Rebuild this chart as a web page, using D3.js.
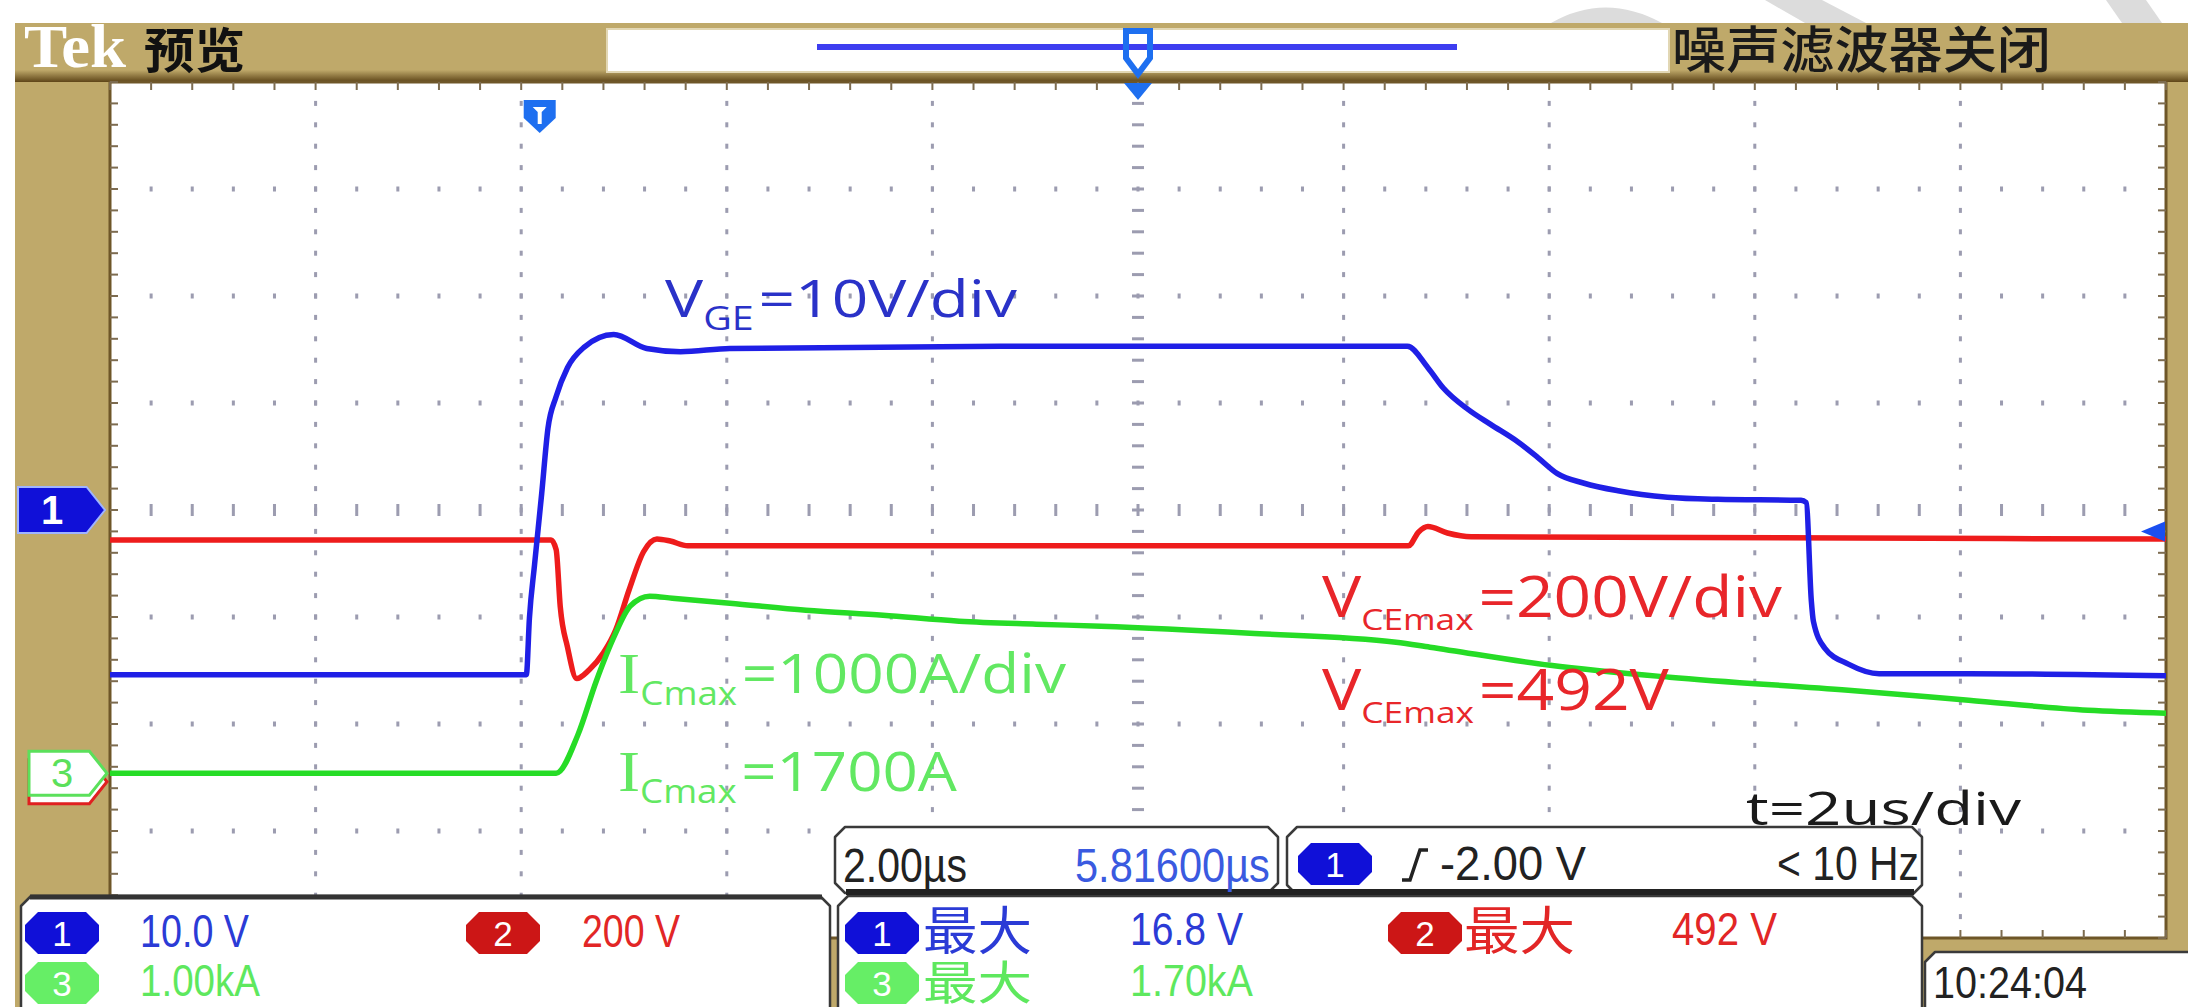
<!DOCTYPE html>
<meta charset="utf-8">
<style>
html, body { margin: 0; background: #fff; }
svg { display: block; }
.trace { fill: none; stroke-width: 5.5; stroke-linejoin: round; stroke-linecap: round; }
</style>
<body><svg width="2188" height="1007"></svg></body>
<script src="https://d3js.org/d3.v7.min.js"></script>
<script>

// time in µs from the left edge of the screen, 2 µs/div
// ch1 V_GE (V), 10 V/div
var vge = [[0,-15.4],[4.05,-15.4],[4.08,-10.1],[4.13,-5.1],[4.20,1.6],[4.26,7.6],[4.34,10.6],[4.45,13.3],
  [4.61,15.2],[4.90,16.4],[5.22,15.1],[5.55,14.8],[6.03,15.1],[8.66,15.3],[12.62,15.3],[12.82,13.3],
  [12.97,11.4],[13.21,9.4],[13.43,8.0],[13.69,6.4],[13.89,4.9],[14.08,3.4],[14.34,2.5],[14.67,1.8],
  [15.15,1.2],[15.64,1.0],[16.45,0.9],[16.50,0.7],[16.55,-8.5],[16.57,-10.4],[16.68,-12.9],[16.91,-14.4],
  [17.21,-15.3],[18.08,-15.3],[20,-15.5]];

// ch2 V_CE (V), 200 V/div
var vce = [[0,452],[4.29,452],[4.34,434],[4.38,327],[4.45,252],[4.54,193],[4.66,209],[4.80,241],
  [4.92,284],[5.05,359],[5.19,430],[5.32,454],[5.45,450],[5.62,441],[6.03,441],[12.63,441],
  [12.73,467],[12.82,477],[13.01,465],[13.24,458],[20,454]];

// ch3 I_C (A), 1000 A/div
var ic = [[0,0],[4.34,0],[4.55,355],[4.73,860],[4.91,1290],[5.06,1561],[5.25,1654],[5.47,1636],
  [6.03,1589],[6.77,1523],[7.52,1477],[8.26,1421],[9.01,1393],[9.64,1374],[11.09,1308],[12.51,1224],
  [12.84,1178],[14.01,1009],[15.17,897],[16.91,776],[18.08,682],[19.24,589],[20,561]];

// channel settings: units per div, ground position in div from centre
var chPerDiv = [10, 200, 1000];
var chPos = [0, -2.54, -2.46];
var trigLevel = -2.0;
var trigTime = 4.18;

// readouts
var topLeft = ["Tek", "预览"];
var topRight = "噪声滤波器关闭";
var chScaleText = ["10.0 V", "200 V", "1.00kA"];
var timeText = ["2.00µs", "5.81600µs"];
var trigText = ["-2.00 V", "< 10 Hz"];
var maxLabel = "最大";
var maxText = ["16.8 V", "492 V", "1.70kA"];
var clockText = "10:24:04";

var svg = d3.select("svg");

var gx0 = 110, gx1 = 2166, gy0 = 82, gy1 = 938;
var divX = d3.scaleLinear().domain([0, 10]).range([gx0, gx1]);
var divY = d3.scaleLinear().domain([0, 8]).range([gy0, gy1]);
var x = d3.scaleLinear().domain([0, 20]).range([gx0, gx1]);
var ys = chPerDiv.map(function(p, i) {
  return d3.scaleLinear().domain([(-4 - chPos[i]) * p, (4 - chPos[i]) * p]).range([gy1, gy0]);
});

var blue = "#1f1fe6", red = "#ee1c1c", green = "#26dc26";

var defs = svg.append("defs");
var gb = defs.append("linearGradient").attr("id", "barEdge").attr("x1", 0).attr("x2", 0).attr("y1", 0).attr("y2", 1);
gb.append("stop").attr("offset", 0).attr("stop-color", "#bfa96a");
gb.append("stop").attr("offset", 1).attr("stop-color", "#5e4518");
defs.append("clipPath").attr("id", "clip").append("rect")
  .attr("x", gx0).attr("y", gy0).attr("width", gx1 - gx0).attr("height", gy1 - gy0);

// watermark bits in the margin
svg.append("g").attr("fill", "#dcdcdc").selectAll("path")
  .data(["M1551,23 Q1605,-8 1662,23 Z", "M1765,0 L1822,0 L1866,23 L1805,23 Z", "M2106,0 L2146,0 L2162,23 L2122,23 Z"])
  .enter().append("path").attr("d", function(d) { return d; });

// bezel
svg.append("rect").attr("x", 15).attr("y", 23).attr("width", 2188 - 15).attr("height", 1007 - 23).attr("fill", "#bfa96a");
svg.append("rect").attr("x", 15).attr("y", 70).attr("width", 2188 - 15).attr("height", 12).attr("fill", "url(#barEdge)");
svg.append("rect").attr("x", 607).attr("y", 29).attr("width", 1062).attr("height", 43)
  .attr("fill", "#fff").attr("stroke", "#e2d7b4").attr("stroke-width", 2);
svg.append("line").attr("x1", 817).attr("x2", 1457).attr("y1", 47).attr("y2", 47)
  .attr("stroke", "#3d3df0").attr("stroke-width", 6);

// graticule
svg.append("rect").attr("x", gx0).attr("y", gy0).attr("width", gx1 - gx0).attr("height", gy1 - gy0)
  .attr("fill", "#fff").attr("stroke", "#6e5628").attr("stroke-width", 3);

var minorX = d3.range(0, 51).map(function(i) { return i / 5; });
var minorY = d3.range(0, 41).map(function(i) { return i / 5; });
var grid = svg.append("g").attr("fill", "#9c9cb0");
d3.range(1, 10).forEach(function(i) {
  var c = i === 5;
  grid.selectAll(null).data(minorY.slice(1, -1)).enter().append("rect")
    .attr("x", divX(i) - (c ? 6 : 1.5))
    .attr("y", function(d) { return divY(d) - (c ? 1.5 : 2.5); })
    .attr("width", c ? 12 : 3).attr("height", c ? 3 : 5);
});
d3.range(1, 8).forEach(function(j) {
  var c = j === 4;
  grid.selectAll(null).data(minorX.slice(1, -1)).enter().append("rect")
    .attr("x", function(d) { return divX(d) - 1.5; })
    .attr("y", divY(j) - (c ? 6 : 2.5))
    .attr("width", 3).attr("height", c ? 12 : 5);
});
var edge = svg.append("g").attr("fill", "#7d6c50");
edge.selectAll(null).data(minorX).enter().append("rect")
  .attr("x", function(d) { return divX(d) - 1; }).attr("y", gy0).attr("width", 2).attr("height", 8);
edge.selectAll(null).data(minorX).enter().append("rect")
  .attr("x", function(d) { return divX(d) - 1; }).attr("y", gy1 - 8).attr("width", 2).attr("height", 8);
edge.selectAll(null).data(minorY).enter().append("rect")
  .attr("x", gx0).attr("y", function(d) { return divY(d) - 1; }).attr("width", 8).attr("height", 2);
edge.selectAll(null).data(minorY).enter().append("rect")
  .attr("x", gx1 - 8).attr("y", function(d) { return divY(d) - 1; }).attr("width", 8).attr("height", 2);

// traces
var traces = svg.append("g").attr("clip-path", "url(#clip)");
[[vce, 1, red], [ic, 2, green], [vge, 0, blue]].forEach(function(s) {
  var line = d3.line().curve(d3.curveMonotoneX)
    .x(function(d) { return x(d[0]); })
    .y(function(d) { return ys[s[1]](d[1]); });
  traces.append("path").datum(s[0]).attr("class", "trace").attr("stroke", s[2]).attr("d", line);
});

// text pieces laid side by side, then the group is fitted to a width
function label(parent, px, py, width, parts, o) {
  var g = parent.append("g");
  var cur = 0;
  parts.forEach(function(p) {
    var t = g.append("text").attr("x", cur).attr("y", p.sub ? o.subDy : 0)
      .attr("font-family", p.font || o.font)
      .attr("font-size", p.size || (p.sub ? o.sub : o.size))
      .attr("font-weight", o.weight || 400).attr("fill", o.color).text(p.t);
    cur += t.node().getComputedTextLength() + (p.sub ? 4 : 0);
  });
  g.attr("transform", "translate(" + px + "," + py + ") scale(" + (width / cur) + ",1)");
  return g;
}

var ann = svg.append("g");
var sans = "'Open Sans', sans-serif", serif = "'Liberation Serif', serif";
label(ann, 665, 317, 352, [{t: "V"}, {t: "GE", sub: true}, {t: "=10V/div"}],
  {font: sans, size: 52, sub: 32, subDy: 13, color: "#2a32c8"});
label(ann, 618, 693, 448, [{t: "I", font: serif, size: 58}, {t: "Cmax", sub: true}, {t: "=1000A/div"}],
  {font: sans, size: 54, sub: 32, subDy: 12, color: "#62e862"});
label(ann, 618, 791, 339, [{t: "I", font: serif, size: 58}, {t: "Cmax", sub: true}, {t: "=1700A"}],
  {font: sans, size: 54, sub: 32, subDy: 12, color: "#62e862"});
label(ann, 1322, 617, 460, [{t: "V"}, {t: "CEmax", sub: true}, {t: "=200V/div"}],
  {font: sans, size: 56, sub: 30, subDy: 13, color: "#e8262a"});
label(ann, 1322, 710, 347, [{t: "V"}, {t: "CEmax", sub: true}, {t: "=492V"}],
  {font: sans, size: 56, sub: 30, subDy: 13, color: "#e8262a"});
label(ann, 1746, 825, 275, [{t: "t=2us/div"}], {font: sans, size: 46, color: "#1a1a1a"});

// channel markers on the left
function pent(tip, cy, w, h) {
  var k = h / 2;
  return "M" + (tip - w) + "," + (cy - k) + "H" + (tip - k * 0.8) + "L" + tip + "," + cy +
    "L" + (tip - k * 0.8) + "," + (cy + k) + "H" + (tip - w) + "Z";
}
var mk = svg.append("g");
mk.append("path").attr("d", pent(105, ys[0](0), 87, 46)).attr("fill", "#1010d8").attr("stroke", "#9fb4ff").attr("stroke-width", 2);
mk.append("text").attr("x", 52).attr("y", ys[0](0) + 14).attr("text-anchor", "middle")
  .attr("font-family", "'Liberation Sans', sans-serif").attr("font-weight", 700).attr("font-size", 40).attr("fill", "#fff").text("1");
mk.append("path").attr("d", pent(107, ys[1](0), 78, 44)).attr("fill", "#fff").attr("stroke", "#e02020").attr("stroke-width", 3);
mk.append("path").attr("d", pent(107, ys[2](0), 78, 44)).attr("fill", "#fff").attr("stroke", "#5be05b").attr("stroke-width", 3);
mk.append("text").attr("x", 62).attr("y", ys[2](0) + 14).attr("text-anchor", "middle")
  .attr("font-family", "'Liberation Sans', sans-serif").attr("font-size", 40).attr("fill", "#5be05b").text("3");

// trigger level marker on the right
var ty = ys[0](trigLevel);
mk.append("path").attr("d", "M" + (gx1 - 25) + "," + ty + "L" + (gx1 - 1) + "," + (ty - 10) + "V" + (ty + 10) + "Z").attr("fill", "#1a4ff0");

// trigger position and expansion point markers
var tx = x(trigTime);
mk.append("path").attr("d", "M" + (tx - 16) + ",100H" + (tx + 16) + "V118L" + tx + ",133L" + (tx - 16) + ",118Z").attr("fill", "#1e6ff0");
mk.append("path").attr("d", "M" + (tx - 7) + ",107H" + (tx + 7) + "L" + (tx + 2) + ",112V124H" + (tx - 2) + "V112Z").attr("fill", "#fff");
var cx = x(10);
mk.append("path").attr("d", "M" + (cx - 12) + ",31H" + (cx + 12) + "V58L" + cx + ",74L" + (cx - 12) + ",58Z")
  .attr("fill", "none").attr("stroke", "#1e6ff0").attr("stroke-width", 6);
mk.append("path").attr("d", "M" + (cx - 14) + ",83H" + (cx + 14) + "L" + cx + ",100Z").attr("fill", "#1e6ff0");

// top bar text
var topBar = svg.append("g");
label(topBar, 24, 67, 102, [{t: topLeft[0]}], {font: serif, size: 62, weight: 700, color: "#fff"});
label(topBar, 144, 68, 101, [{t: topLeft[1]}], {font: "'Noto Sans CJK SC', sans-serif", size: 48, weight: 700, color: "#111"});
label(topBar, 1672, 68, 379, [{t: topRight}], {font: "'Noto Sans CJK SC', sans-serif", size: 50, weight: 500, color: "#1a1a1a"});

// readout panels
function bevel(px, py, w, h, c) {
  return "M" + (px + c) + "," + py + "H" + (px + w - c) + "L" + (px + w) + "," + (py + c) + "V" + (py + h - c) +
    "L" + (px + w - c) + "," + (py + h) + "H" + (px + c) + "L" + px + "," + (py + h - c) + "V" + (py + c) + "Z";
}
var pan = svg.append("g");
[[21, 896, 809, 130], [835, 827, 443, 66], [1287, 827, 635, 68], [838, 896, 1084, 130], [1925, 952, 280, 70]].forEach(function(p) {
  pan.append("path").attr("d", bevel(p[0], p[1], p[2], p[3], 10))
    .attr("fill", "#fff").attr("stroke", "#3a3a3a").attr("stroke-width", 2.5).attr("stroke-linejoin", "round");
});
pan.append("line").attr("x1", 30).attr("x2", 822).attr("y1", 897).attr("y2", 897).attr("stroke", "#333").attr("stroke-width", 5);
pan.append("line").attr("x1", 846).attr("x2", 1914).attr("y1", 892).attr("y2", 892).attr("stroke", "#222").attr("stroke-width", 6);

var chFill = ["#1010d8", "#cc1616", "#66ee66"];
var chText = ["#2b3bd6", "#e22626", "#5ee85e"];
function badge(px, py, ch) {
  pan.append("path").attr("d", bevel(px, py, 74, 42, 13)).attr("fill", chFill[ch]);
  pan.append("text").attr("x", px + 37).attr("y", py + 34).attr("text-anchor", "middle")
    .attr("font-family", "'Liberation Sans', sans-serif").attr("font-size", 35).attr("fill", "#fff").text(ch + 1);
}
var rsans = "'Liberation Sans', sans-serif", cjk = "'Noto Sans CJK SC', sans-serif";

badge(25, 912, 0);
label(pan, 140, 947, 109, [{t: chScaleText[0]}], {font: rsans, size: 47, color: chText[0]});
badge(466, 912, 1);
label(pan, 582, 947, 98, [{t: chScaleText[1]}], {font: rsans, size: 47, color: chText[1]});
badge(25, 962, 2);
label(pan, 140, 996, 120, [{t: chScaleText[2]}], {font: rsans, size: 44, color: chText[2]});

label(pan, 843, 882, 124, [{t: timeText[0]}], {font: rsans, size: 48, color: "#222"});
label(pan, 1075, 882, 195, [{t: timeText[1]}], {font: rsans, size: 48, color: "#3a5ae0"});

badge(1298, 843, 0);
pan.append("path").attr("d", "M1402,880H1410L1420,850H1428").attr("fill", "none").attr("stroke", "#222").attr("stroke-width", 3.5);
label(pan, 1440, 880, 146, [{t: trigText[0]}], {font: rsans, size: 48, color: "#222"});
label(pan, 1777, 880, 142, [{t: trigText[1]}], {font: rsans, size: 48, color: "#222"});

badge(845, 912, 0);
label(pan, 923, 950, 109, [{t: maxLabel}], {font: cjk, size: 52, color: chText[0]});
label(pan, 1130, 945, 113, [{t: maxText[0]}], {font: rsans, size: 47, color: chText[0]});
badge(1388, 912, 1);
label(pan, 1464, 950, 111, [{t: maxLabel}], {font: cjk, size: 52, color: chText[1]});
label(pan, 1672, 945, 105, [{t: maxText[1]}], {font: rsans, size: 47, color: chText[1]});
badge(845, 962, 2);
label(pan, 923, 999, 109, [{t: maxLabel}], {font: cjk, size: 46, color: chText[2]});
label(pan, 1130, 996, 123, [{t: maxText[2]}], {font: rsans, size: 44, color: chText[2]});

label(pan, 1933, 998, 154, [{t: clockText}], {font: rsans, size: 44, color: "#222"});

</script>
